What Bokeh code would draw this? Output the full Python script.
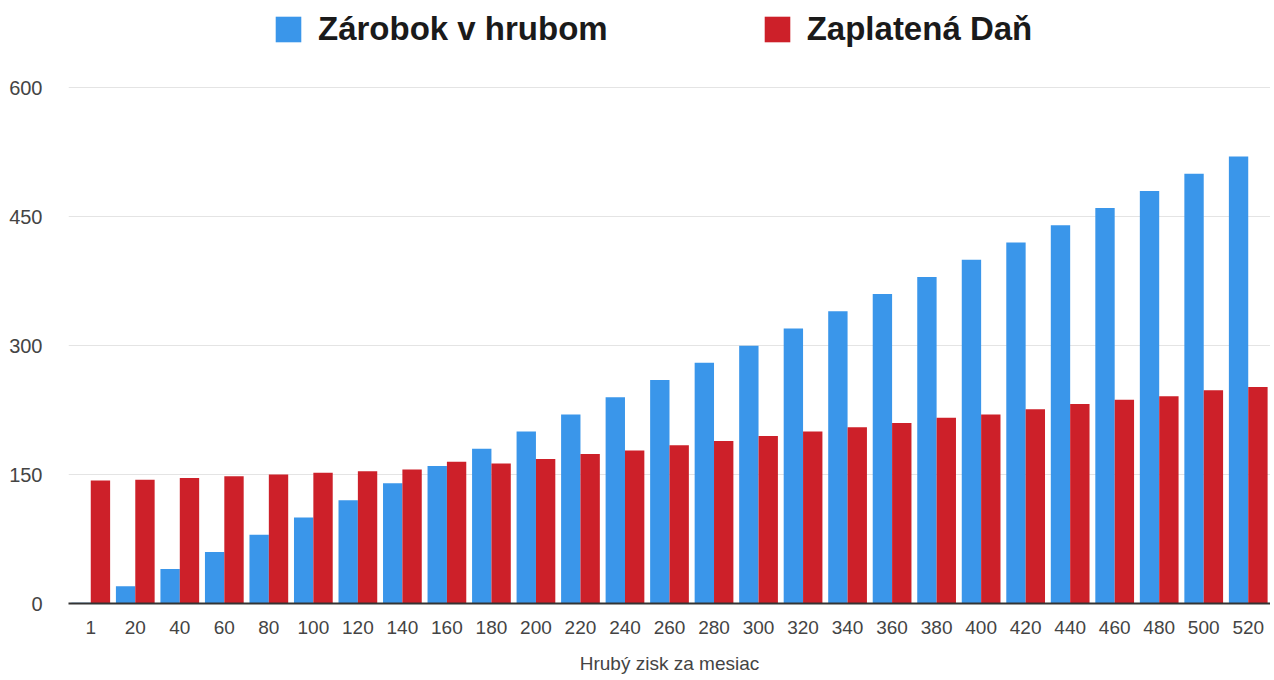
from bokeh.plotting import figure
from bokeh.models import FactorRange, Range1d, FixedTicker, Legend, LegendItem, ColumnDataSource
from bokeh.transform import dodge
from bokeh.embed import file_html
from bokeh.resources import INLINE

# ---- data ----
categories = ["1", "20", "40", "60", "80", "100", "120", "140", "160", "180", "200",
              "220", "240", "260", "280", "300", "320", "340", "360", "380", "400",
              "420", "440", "460", "480", "500", "520"]
zarobok = [1, 20, 40, 60, 80, 100, 120, 140, 160, 180, 200,
           220, 240, 260, 280, 300, 320, 340, 360, 380, 400,
           420, 440, 460, 480, 500, 520]
dan = [143, 144, 146, 148, 150, 152, 154, 156, 165, 163, 168,
       174, 178, 184, 189, 195, 200, 205, 210, 216, 220,
       226, 232, 237, 241, 248, 252]
y_ticks = [0, 150, 300, 450, 600]
series_names = ["Zárobok v hrubom", "Zaplatená Daň"]
x_title = "Hrubý zisk za mesiac"

BLUE = "#3A96EA"
RED = "#CD2029"
FONT = "Liberation Sans"

src = ColumnDataSource(dict(cat=categories, zarobok=zarobok, dan=dan))

# frame spans the full figure height above the x axis; headroom above 600 holds the legend
p = figure(x_range=FactorRange(*categories, range_padding=0),
           y_range=Range1d(0, 600 * 608 / 520),
           width=1270, height=676,
           output_backend="svg", toolbar_location=None,
           min_border_left=68, min_border_right=0,
           min_border_top=0, min_border_bottom=68)

bw = 0.435
r1 = p.vbar(x=dodge("cat", -bw / 2, range=p.x_range), top="zarobok", width=bw,
            source=src, fill_color=BLUE, line_color=None)
r2 = p.vbar(x=dodge("cat", bw / 2, range=p.x_range), top="dan", width=bw,
            source=src, fill_color=RED, line_color=None)

p.outline_line_color = None
p.xgrid.grid_line_color = None
p.ygrid.grid_line_color = "#e4e4e4"
p.ygrid.grid_line_width = 1

p.yaxis.ticker = FixedTicker(ticks=y_ticks)
p.yaxis.axis_line_color = None
p.yaxis.major_tick_line_color = None
p.yaxis.minor_tick_line_color = None
p.yaxis.major_label_standoff = 20
p.yaxis.major_label_text_font = FONT
p.yaxis.major_label_text_font_size = "20px"
p.yaxis.major_label_text_color = "#444444"

p.xaxis.axis_line_color = "#333333"
p.xaxis.axis_line_width = 2
p.xaxis.major_tick_line_color = None
p.xaxis.minor_tick_line_color = None
p.xaxis.major_label_standoff = 11
p.xaxis.major_label_text_font = FONT
p.xaxis.major_label_text_font_size = "19px"
p.xaxis.major_label_text_color = "#444444"
p.xaxis.axis_label = x_title
p.xaxis.axis_label_text_font = FONT
p.xaxis.axis_label_text_font_size = "19px"
p.xaxis.axis_label_text_font_style = "normal"
p.xaxis.axis_label_text_color = "#444444"
p.xaxis.axis_label_standoff = 16

legend = Legend(items=[LegendItem(label=series_names[0], renderers=[r1]),
                       LegendItem(label=series_names[1], renderers=[r2])],
                orientation="horizontal", location=(204, 555),
                glyph_width=32, glyph_height=32, label_standoff=14, spacing=153,
                padding=0, margin=0, border_line_color=None,
                background_fill_alpha=0,
                label_text_font=FONT, label_text_font_size="33px",
                label_text_font_style="bold", label_text_color="#1a1a1a",
                label_height=32)
p.add_layout(legend)

open("out.html", "w").write(file_html(p, INLINE))
